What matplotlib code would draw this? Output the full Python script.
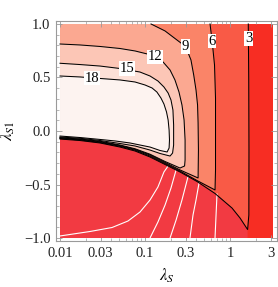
import numpy as np
import matplotlib
matplotlib.use("Agg")
import matplotlib.pyplot as plt
from matplotlib.ticker import FixedLocator, FixedFormatter, NullFormatter

plt.rcParams['font.family'] = 'serif'
plt.rcParams['font.serif'] = ['Liberation Serif', 'DejaVu Serif']
plt.rcParams['mathtext.fontset'] = 'stix'

# contour levels of the upper field and the band colours (lowest band first)
levels = [3, 6, 9, 12, 15, 18]
band_colors = ['#f72d23', '#f95a46', '#fa8468', '#fba891', '#fcc6b6', '#fde0d7', '#fdf3f0']
lower_color = '#f23a42'

# contour paths (lambda_S, lambda_S1)
c3_x = [1.64, 1.66, 1.67, 1.665, 1.61, 1.311, 1.056, 0.666, 0.409, 0.258, 0.172, 0.1145, 0.0763, 0.0508, 0.0296, 0.0172, 0.01]
c3_y = [1.0, 0.48, -0.18, -0.785, -0.921, -0.813, -0.72, -0.584, -0.472, -0.383, -0.313, -0.243, -0.187, -0.150, -0.112, -0.089, -0.075]

c6_x = [0.582, 0.614, 0.657, 0.675, 0.675, 0.666, 0.409, 0.258, 0.172, 0.1145, 0.0763, 0.0508, 0.0296, 0.0172, 0.01]
c6_y = [1.0, 0.850, 0.617, 0.308, -0.364, -0.551, -0.463, -0.374, -0.304, -0.234, -0.179, -0.143, -0.107, -0.084, -0.070]

c9_x = [0.1177, 0.172, 0.238, 0.2996, 0.347, 0.374, 0.398, 0.415, 0.421, 0.425, 0.421, 0.258, 0.172, 0.1145, 0.0763, 0.0508, 0.0296, 0.0172, 0.01]
c9_y = [1.0, 0.935, 0.850, 0.790, 0.664, 0.523, 0.383, 0.243, 0.075, -0.178, -0.439, -0.364, -0.294, -0.224, -0.172, -0.136, -0.101, -0.079, -0.065]

c12_x = [0.01, 0.0172, 0.0296, 0.0508, 0.0763, 0.106, 0.131, 0.163, 0.197, 0.225, 0.251, 0.272, 0.288, 0.296, 0.296, 0.292, 0.258, 0.172, 0.1145, 0.0763, 0.0508, 0.0296, 0.0172, 0.01]
c12_y = [0.813, 0.804, 0.790, 0.771, 0.748, 0.720, 0.692, 0.645, 0.570, 0.477, 0.364, 0.243, 0.103, -0.084, -0.271, -0.327, -0.346, -0.285, -0.217, -0.166, -0.131, -0.096, -0.075, -0.062]

c15_x = [0.01, 0.0172, 0.0296, 0.0508, 0.0873, 0.1145, 0.142, 0.167, 0.187, 0.202, 0.213, 0.217, 0.217, 0.211, 0.197, 0.150, 0.1145, 0.0763, 0.0508, 0.0296, 0.0172, 0.01]
c15_y = [0.633, 0.621, 0.607, 0.584, 0.551, 0.514, 0.467, 0.411, 0.355, 0.290, 0.196, 0.056, -0.131, -0.206, -0.234, -0.210, -0.178, -0.140, -0.117, -0.089, -0.068, -0.056]

c18_x = [0.01, 0.0172, 0.0296, 0.0508, 0.0763, 0.1, 0.121, 0.138, 0.154, 0.167, 0.179, 0.187, 0.192, 0.194, 0.192, 0.182, 0.150, 0.1145, 0.0873, 0.0666, 0.0444, 0.0296, 0.0172, 0.01]
c18_y = [0.514, 0.505, 0.491, 0.477, 0.458, 0.430, 0.402, 0.364, 0.308, 0.252, 0.178, 0.103, 0.009, -0.084, -0.159, -0.196, -0.182, -0.150, -0.131, -0.112, -0.093, -0.079, -0.061, -0.047]

contours_x = [c3_x, c6_x, c9_x, c12_x, c15_x, c18_x]
contours_y = [c3_y, c6_y, c9_y, c12_y, c15_y, c18_y]

# contour label positions
label_x = [1.651, 0.614, 0.2996, 0.131, 0.0614, 0.0238]
label_y = [0.864, 0.841, 0.790, 0.692, 0.584, 0.495]

# white contours of the lower region
w1_x = [0.01, 0.0226, 0.0409, 0.0631, 0.0873, 0.1145, 0.142, 0.167, 0.187]
w1_y = [-0.981, -0.939, -0.902, -0.841, -0.757, -0.645, -0.523, -0.383, -0.327]
w2_x = [0.1145, 0.142, 0.172, 0.202, 0.232]
w2_y = [-1.0, -0.850, -0.692, -0.533, -0.364]
w3_x = [0.197, 0.232, 0.272, 0.321]
w3_y = [-1.0, -0.832, -0.645, -0.425]
w4_x = [0.338, 0.367, 0.398, 0.432]
w4_y = [-1.0, -0.785, -0.645, -0.486]
w5_x = [0.666, 0.685, 0.703]
w5_y = [-1.0, -0.785, -0.589]
white_x = [w1_x, w2_x, w3_x, w4_x, w5_x]
white_y = [w1_y, w2_y, w3_y, w4_y, w5_y]

x_range = [0.01, 3.2]
y_range = [-1.0, 1.0]

xticks = [0.01, 0.03, 0.1, 0.3, 1, 3]
xtick_labels = ['0.01', '0.03', '0.1', '0.3', '1', '3']
xminor = [0.02, 0.04, 0.05, 0.06, 0.07, 0.08, 0.09, 0.2, 0.4, 0.5, 0.6, 0.7, 0.8, 0.9, 2]
yticks = [-1.0, -0.5, 0.0, 0.5, 1.0]
ytick_labels = ['\u22121.0', '\u22120.5', '0.0', '0.5', '1.0']
yminor = [-0.9, -0.8, -0.7, -0.6, -0.4, -0.3, -0.2, -0.1, 0.1, 0.2, 0.3, 0.4, 0.6, 0.7, 0.8, 0.9]


def main():
    fig = plt.figure(figsize=(2.78, 2.87), dpi=100)
    ax = fig.add_axes([56 / 278, 46 / 287, 221 / 278, 220 / 287])
    ax.set_xscale('log')
    ax.set_xlim(0.00897, 3.57)
    ax.set_ylim(-1.028, 1.028)

    # lowest band covers the whole plotted range
    ax.fill([x_range[0], x_range[1], x_range[1], x_range[0]],
            [y_range[0], y_range[0], y_range[1], y_range[1]],
            color=band_colors[0], lw=0, zorder=1)

    # each higher band painted on top (region left of / inside its contour)
    for i in range(len(levels)):
        px = list(contours_x[i])
        py = list(contours_y[i])
        if py[0] >= y_range[1]:
            px.append(x_range[0])
            py.append(y_range[1])
        ax.fill(px, py, color=band_colors[i + 1], lw=0, zorder=1 + i * 0.01)

    # lower region under the boundary
    bx = list(c3_x[4:]) + [x_range[0], c3_x[4]]
    by = list(c3_y[4:]) + [y_range[0], y_range[0]]
    ax.fill(bx, by, color=lower_color, lw=0, zorder=2)

    for wx, wy in zip(white_x, white_y):
        ax.plot(wx, wy, color='white', lw=0.8, zorder=3)

    for cx, cy in zip(contours_x, contours_y):
        ax.plot(cx, cy, color='black', lw=0.75, zorder=4)

    for lev, lx, ly in zip(levels, label_x, label_y):
        ax.text(lx, ly, str(lev), ha='center', va='center', fontsize=10.5, zorder=5,
                bbox=dict(facecolor='white', edgecolor='none', pad=0.5))

    gray = '#9a9a9a'
    for s in ax.spines.values():
        s.set_color(gray)
        s.set_linewidth(0.8)

    ax.xaxis.set_major_locator(FixedLocator(xticks))
    ax.xaxis.set_major_formatter(FixedFormatter(xtick_labels))
    ax.xaxis.set_minor_locator(FixedLocator(xminor))
    ax.xaxis.set_minor_formatter(NullFormatter())
    ax.yaxis.set_major_locator(FixedLocator(yticks))
    ax.yaxis.set_major_formatter(FixedFormatter(ytick_labels))
    ax.yaxis.set_minor_locator(FixedLocator(yminor))

    ax.tick_params(which='both', direction='in', top=True, right=True, color=gray,
                   labelsize=10.5, labelcolor='#222222')
    ax.tick_params(which='major', length=4, width=0.6, pad=4)
    ax.tick_params(which='minor', length=2, width=0.5)

    ax.set_xlabel(r'$\lambda_S$', fontsize=12, labelpad=5)
    ax.set_ylabel(r'$\lambda_{S1}$', fontsize=12, labelpad=5)

    fig.savefig('out.png', dpi=100)


if __name__ == "__main__":
    main()
